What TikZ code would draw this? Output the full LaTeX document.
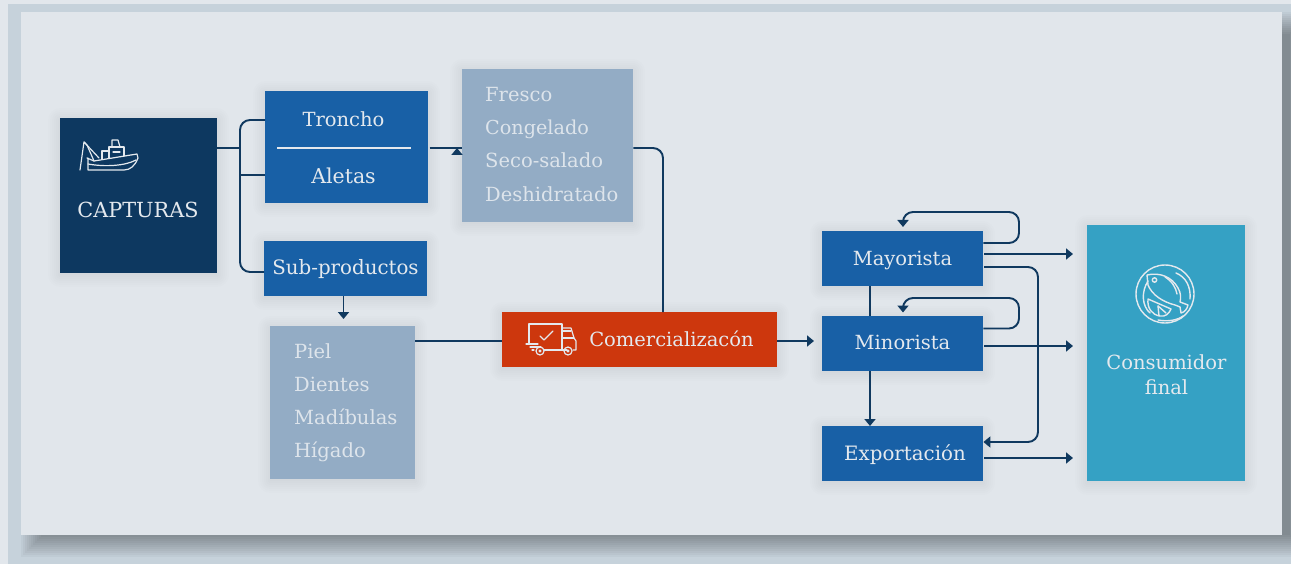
\documentclass[tikz,border=0pt]{standalone}
\usepackage{fontspec}
\setmainfont{DejaVu Serif}
\usetikzlibrary{arrows.meta}
\definecolor{pagebg}{HTML}{C6D2DB}
\definecolor{stripe}{HTML}{E2E7EC}
\definecolor{panel}{HTML}{E1E6EB}
\definecolor{navy}{HTML}{0D3860}
\definecolor{midblue}{HTML}{1860A6}
\definecolor{pale}{HTML}{93ACC5}
\definecolor{paletext}{HTML}{DDE4EB}
\definecolor{redbox}{HTML}{CD370D}
\definecolor{teal}{HTML}{35A1C4}
\definecolor{linec}{HTML}{10395F}
\definecolor{inktext}{HTML}{E4E9EE}
\newcommand{\softshadow}[4]{%
  \foreach \s in {12,10,8,6,4,2,0}{%
    \fill[black,opacity=.008,rounded corners=\s pt] (#1-\s,#2-\s+2) rectangle (#3+\s,#4+\s+2);}}
\tikzset{
  x=1pt,y=-1pt,
  box/.style={draw=none,inner sep=0pt,anchor=north west},
  label/.style={inner sep=0pt,text=inktext,font=\fontsize{19.5}{24}\selectfont},
  mid/.style={label,anchor=base},
  listitem/.style={label,anchor=base west,text=paletext},
  conn/.style={draw=linec,line width=1.9pt,rounded corners=10pt},
  arr/.style={conn,-{Triangle[length=7pt,width=11pt]}},
  icon/.style={draw=inktext,line width=1.2pt,line cap=round,line join=round}
}
\begin{document}
\begin{tikzpicture}
\useasboundingbox (0,0) rectangle (1291,564);
\fill[pagebg] (0,0) rectangle (1291,564);
\fill[stripe] (0,0) rectangle (8,564);
\fill[stripe] (0,0) rectangle (1291,4);
% panel shadow
\foreach \s in {-10,-8,-6,-4,-2,0,2,4,6,8,10,12}{\fill[black,opacity=.03] (33-\s,24-\s) rectangle (1300+\s,545+\s);}
\fill[panel] (21,12) rectangle (1282,535);
% box shadows
\softshadow{60}{118}{217}{273}
\softshadow{265}{91}{428}{203}
\softshadow{264}{241}{427}{296}
\softshadow{462}{69}{633}{222}
\softshadow{270}{326}{415}{479}
\softshadow{502}{312}{777}{367}
\softshadow{822}{231}{983}{286}
\softshadow{822}{316}{983}{371}
\softshadow{822}{426}{983}{481}
\softshadow{1087}{225}{1245}{481}
% boxes
\node[box,fill=navy,minimum width=157pt,minimum height=155pt] (capt) at (60,118) {};
\node[box,fill=midblue,minimum width=163pt,minimum height=112pt] (tronc) at (265,91) {};
\node[box,fill=midblue,minimum width=163pt,minimum height=55pt] (subp) at (264,241) {};
\node[box,fill=pale,minimum width=171pt,minimum height=153pt] (forms) at (462,69) {};
\node[box,fill=pale,minimum width=145pt,minimum height=153pt] (parts) at (270,326) {};
\node[box,fill=redbox,minimum width=275pt,minimum height=55pt] (com) at (502,312) {};
\node[box,fill=midblue,minimum width=161pt,minimum height=55pt] (may) at (822,231) {};
\node[box,fill=midblue,minimum width=161pt,minimum height=55pt] (min) at (822,316) {};
\node[box,fill=midblue,minimum width=161pt,minimum height=55pt] (exp) at (822,426) {};
\node[box,fill=teal,minimum width=158pt,minimum height=256pt] (cons) at (1087,225) {};
% labels
\node[mid,font=\fontsize{20.8}{24}\selectfont] (captl) at (138,217.4) {CAPTURAS};
\node[mid] (tronl) at (343.5,126.4) {Troncho};
\node[mid,font=\fontsize{20.5}{24}\selectfont] (aletl) at (343.5,183.7) {Aletas};
\node[mid,font=\fontsize{19.8}{24}\selectfont] (subl) at (345.5,274.7) {Sub-productos};
\node[listitem] (f1) at (485,101.4) {Fresco};
\node[listitem,font=\fontsize{19.2}{24}\selectfont] (f2) at (485,134.4) {Congelado};
\node[listitem] (f3) at (485,167.4) {Seco-salado};
\node[listitem] (f4) at (485,201.4) {Deshidratado};
\node[listitem] (p1) at (294,358) {Piel};
\node[listitem] (p2) at (294,391) {Dientes};
\node[listitem] (p3) at (294,424) {Madíbulas};
\node[listitem] (p4) at (294,457) {Hígado};
\node[mid] (coml) at (671.5,346.2) {Comercializacón};
\node[mid] (mayl) at (902.5,265.7) {Mayorista};
\node[mid] (minl) at (902.5,349.4) {Minorista};
\node[mid,font=\fontsize{19.8}{24}\selectfont] (expl) at (905,460) {Exportación};
\node[mid] (cons1) at (1166.5,369) {Consumidor};
\node[mid] (cons2) at (1166.5,394) {final};
% divider
\draw[draw=inktext,line width=1.4pt] (277,148) -- (411,148);
% connectors
\coordinate (j1) at (240,148);
\draw[conn,rounded corners=0pt] (capt.east |- j1) -- (j1);
\draw[conn] (tronc.west |- 0,120) -- (240,120) -- (240,272) -- (subp.west |- 0,272);
\draw[conn,rounded corners=0pt] (240,175) -- (tronc.west |- 0,175);
\draw[arr] (429.5,148) -- (forms.west |- 0,148) ++(-5,0);
\draw[arr] (subp.south -| 343.5,0) -- (343.5,319);
\draw[conn] (forms.east |- 0,148) -- (663,148) -- (com.north -| 663,0);
\draw[conn] (parts.east |- 0,341) -- (com.west |- 0,341);
\draw[arr] (com.east |- 0,341) -- (814,341);
\draw[arr] (may.east |- 0,243) -- (1019,243) -- (1019,212) -- (903,212) -- (903,227);
\draw[arr] (min.east |- 0,328.5) -- (1019,328.5) -- (1019,298) -- (903,298) -- (903,312.5);
\draw[conn] (may.south -| 870,0) -- (min.north -| 870,0);
\draw[arr] (min.south -| 870,0) -- (exp.north -| 870,0);
\draw[arr] (984,254) -- (1073,254);
\draw[arr] (984,346) -- (1073,346);
\draw[arr] (984,458) -- (1073,458);
\draw[arr] (984,267) -- (1038,267) -- (1038,442) -- (exp.east |- 0,442);
% ship icon
\begin{scope}[icon]
\draw (80,170) -- (84,142) -- (99,158);
\draw (84,142) -- (87,145) -- (94,161);
\draw (87,158) -- (94,161) -- (137,154) -- (138,158) .. controls (135,166) and (130,170) .. (124,170) -- (88,170) -- (88,158);
\draw (88,164) .. controls (105,167) and (125,166) .. (136,160);
\draw (102,159) -- (102,151) -- (109,151) -- (109,158);
\draw (109,158) -- (109,147) -- (124,147) -- (124,156);
\draw (112,147) -- (112,140) -- (118,140) -- (120,147);
\draw (113,152) -- (120,152);
\end{scope}
% truck icon
\begin{scope}[icon]
\draw (529,344) -- (529,324) -- (562,324) -- (562,350) -- (544,350);
\draw (534,350) -- (532,350);
\draw (562,328) -- (571,328) -- (574,338) -- (576,341) -- (576,350) -- (573,350);
\draw (563,331) -- (571,331);
\draw (563,338) -- (574,338);
\draw (567,350) -- (562,350);
\draw (526,344) -- (538,344);
\draw (530,347) -- (541,347);
\draw (540,336) -- (544,340) -- (553,331);
\draw (540,351) circle (4pt);
\draw (568,351) circle (4pt);
\draw (540,351) circle (1pt);
\draw (568,351) circle (1pt);
\end{scope}
% fish icon
\begin{scope}[icon,line width=1.4pt]
\draw (1165,294) circle (29pt);
\draw (1148,281) .. controls (1141,292) and (1142,306) .. (1150,313);
\draw (1158,320) .. controls (1168,322) and (1178,320) .. (1183,316);
\draw (1176,273) .. controls (1186,277) and (1191,287) .. (1190,299);
% body
\draw (1147,275) .. controls (1160,272) and (1172,277) .. (1178,288) .. controls (1181,293) and (1181,298) .. (1180,302)
  -- (1188,305) .. controls (1187,309) and (1185,312) .. (1181,313) -- (1180,307) -- (1175,305)
  .. controls (1163,302) and (1152,295) .. (1148,285) -- (1147,275);
\draw (1165,277) .. controls (1172,281) and (1176,288) .. (1177,294);
\draw (1154.5,280) circle (2.2pt);
% lemon
\draw (1148,299) .. controls (1147,308) and (1152,315) .. (1160,316) .. controls (1165,317) and (1169,314) .. (1171,309) -- (1148,299);
\draw (1158,306) -- (1159,316);
\draw (1158,306) -- (1166,313);
\end{scope}
\end{tikzpicture}
\end{document}
